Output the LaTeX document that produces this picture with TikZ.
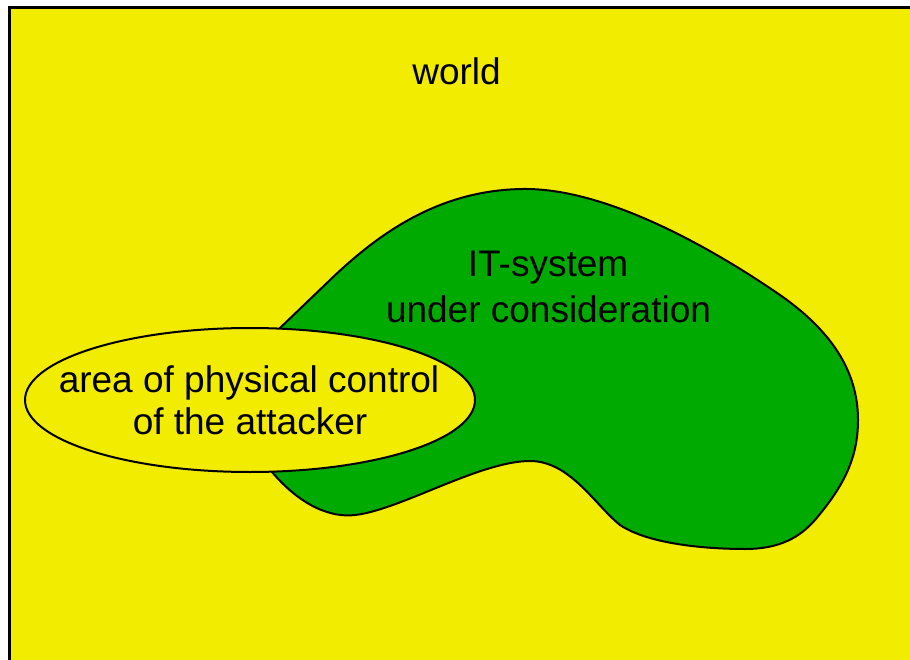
\documentclass[tikz,border=0pt]{standalone}
\usepackage{fontspec}
\setmainfont{Liberation Sans}
\usetikzlibrary{shapes.geometric}
\definecolor{worldyellow}{HTML}{F2EC00}
\definecolor{sysgreen}{HTML}{00AA00}
\begin{document}
\begin{tikzpicture}[x=1pt,y=-1pt,
  label text/.style={font=\fontsize{37}{44}\selectfont, anchor=base, inner sep=0pt},
  outline/.style={draw=black, line width=2pt, line join=round}]
\useasboundingbox (0,0) rectangle (910,660);
\clip (0,0) rectangle (910,660);

% the world: frame running off the right and bottom edges
\draw[fill=worldyellow, draw=black, line width=2.6pt] (9.5,7.5) rectangle (930,690);
\node[label text] (world) at (456.5,85) {world};

% the IT system blob
\path[outline, fill=sysgreen]
  (272,472) .. controls (300,505) and (330,518) .. (355,515)
  .. controls (400,510) and (480,461) .. (530,461)
  .. controls (570,461) and (595,505) .. (620,525)
  .. controls (650,545) and (710,549) .. (745,549)
  .. controls (780,549) and (800,537) .. (815,520)
  .. controls (842,488) and (858,460) .. (858,420)
  .. controls (858,370) and (830,330) .. (780,295)
  .. controls (700,240) and (600,188) .. (523,189)
  .. controls (440,190) and (380,232) .. (330,280)
  -- (280,328) -- (240,400) -- cycle;
\node[label text] (itsys1) at (548,277) {IT-system};
\node[label text] (itsys2) at (548.5,322) {under consideration};

% area of physical control of the attacker
\node[ellipse, outline, fill=worldyellow, minimum width=450pt, minimum height=144pt, inner sep=0pt]
  (attacker) at (250,400) {};
\node[label text] (attack1) at (249,392) {area of physical control};
\node[label text] (attack2) at (250,434) {of the attacker};
\end{tikzpicture}
\end{document}
